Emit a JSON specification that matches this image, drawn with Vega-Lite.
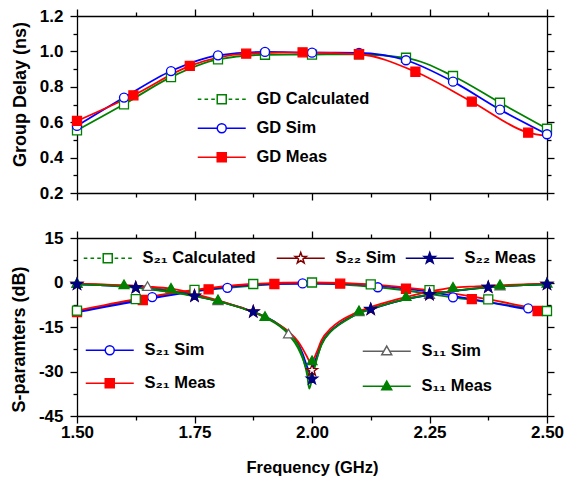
{
  "$schema": "https://vega.github.io/schema/vega-lite/v6.json",
  "background": "white",
  "padding": {"left": 10, "top": 7, "right": 5, "bottom": 5},
  "spacing": 28,
  "datasets": {
    "gd": [
      {"s": "GD Calculated", "f": 1.5, "v": 0.554, "m": 1},
      {"s": "GD Calculated", "f": 1.6, "v": 0.701, "m": 1},
      {"s": "GD Calculated", "f": 1.7, "v": 0.855, "m": 1},
      {"s": "GD Calculated", "f": 1.8, "v": 0.955, "m": 1},
      {"s": "GD Calculated", "f": 1.9, "v": 0.981, "m": 1},
      {"s": "GD Calculated", "f": 2.0, "v": 0.982, "m": 1},
      {"s": "GD Calculated", "f": 2.1, "v": 0.984, "m": 1},
      {"s": "GD Calculated", "f": 2.2, "v": 0.964, "m": 1},
      {"s": "GD Calculated", "f": 2.3, "v": 0.861, "m": 1},
      {"s": "GD Calculated", "f": 2.4, "v": 0.71, "m": 1},
      {"s": "GD Calculated", "f": 2.5, "v": 0.563, "m": 1},
      {"s": "GD Sim", "f": 1.5, "v": 0.579, "m": 1},
      {"s": "GD Sim", "f": 1.6, "v": 0.739, "m": 1},
      {"s": "GD Sim", "f": 1.7, "v": 0.889, "m": 1},
      {"s": "GD Sim", "f": 1.8, "v": 0.978, "m": 1},
      {"s": "GD Sim", "f": 1.9, "v": 0.997, "m": 1},
      {"s": "GD Sim", "f": 2.0, "v": 0.993, "m": 1},
      {"s": "GD Sim", "f": 2.1, "v": 0.992, "m": 1},
      {"s": "GD Sim", "f": 2.2, "v": 0.95, "m": 1},
      {"s": "GD Sim", "f": 2.3, "v": 0.829, "m": 1},
      {"s": "GD Sim", "f": 2.4, "v": 0.671, "m": 1},
      {"s": "GD Sim", "f": 2.5, "v": 0.532, "m": 1},
      {"s": "GD Meas", "f": 1.5, "v": 0.607, "m": 1},
      {"s": "GD Meas", "f": 1.62, "v": 0.752, "m": 1},
      {"s": "GD Meas", "f": 1.74, "v": 0.918, "m": 1},
      {"s": "GD Meas", "f": 1.86, "v": 0.987, "m": 1},
      {"s": "GD Meas", "f": 1.98, "v": 0.995, "m": 1},
      {"s": "GD Meas", "f": 2.1, "v": 0.984, "m": 1},
      {"s": "GD Meas", "f": 2.22, "v": 0.885, "m": 1},
      {"s": "GD Meas", "f": 2.34, "v": 0.716, "m": 1},
      {"s": "GD Meas", "f": 2.46, "v": 0.541, "m": 1},
      {"s": "GD Meas", "f": 2.5, "v": 0.522, "m": 0}
    ],
    "sp": [
      {"s": "S₂₁ Sim", "f": 1.5, "v": -9.8, "m": 0},
      {"s": "S₂₁ Sim", "f": 1.66, "v": -4.9, "m": 1},
      {"s": "S₂₁ Sim", "f": 1.82, "v": -1.8, "m": 1},
      {"s": "S₂₁ Sim", "f": 1.98, "v": -0.3, "m": 1},
      {"s": "S₂₁ Sim", "f": 2.14, "v": -1.6, "m": 1},
      {"s": "S₂₁ Sim", "f": 2.3, "v": -5.0, "m": 1},
      {"s": "S₂₁ Sim", "f": 2.46, "v": -8.7, "m": 1},
      {"s": "S₂₁ Sim", "f": 2.5, "v": -9.9, "m": 0},
      {"s": "S₂₁ Meas", "f": 1.5, "v": -10.0, "m": 1},
      {"s": "S₂₁ Meas", "f": 1.64, "v": -5.9, "m": 1},
      {"s": "S₂₁ Meas", "f": 1.78, "v": -2.3, "m": 1},
      {"s": "S₂₁ Meas", "f": 1.92, "v": -0.5, "m": 1},
      {"s": "S₂₁ Meas", "f": 2.06, "v": -0.4, "m": 1},
      {"s": "S₂₁ Meas", "f": 2.2, "v": -2.1, "m": 1},
      {"s": "S₂₁ Meas", "f": 2.34, "v": -5.6, "m": 1},
      {"s": "S₂₁ Meas", "f": 2.48, "v": -9.6, "m": 1},
      {"s": "S₂₁ Meas", "f": 2.5, "v": -10.1, "m": 0},
      {"s": "S₂₁ Calculated", "f": 1.5, "v": -9.5, "m": 1},
      {"s": "S₂₁ Calculated", "f": 1.625, "v": -5.6, "m": 1},
      {"s": "S₂₁ Calculated", "f": 1.75, "v": -2.5, "m": 1},
      {"s": "S₂₁ Calculated", "f": 1.875, "v": -0.5, "m": 1},
      {"s": "S₂₁ Calculated", "f": 2.0, "v": 0.0, "m": 1},
      {"s": "S₂₁ Calculated", "f": 2.125, "v": -0.6, "m": 1},
      {"s": "S₂₁ Calculated", "f": 2.25, "v": -2.6, "m": 1},
      {"s": "S₂₁ Calculated", "f": 2.375, "v": -5.7, "m": 1},
      {"s": "S₂₁ Calculated", "f": 2.5, "v": -9.6, "m": 1},
      {"s": "S₁₁ Sim", "f": 1.5, "v": -0.5, "m": 1},
      {"s": "S₁₁ Sim", "f": 1.55, "v": -0.7, "m": 0},
      {"s": "S₁₁ Sim", "f": 1.6, "v": -1.0, "m": 0},
      {"s": "S₁₁ Sim", "f": 1.65, "v": -1.5, "m": 1},
      {"s": "S₁₁ Sim", "f": 1.7, "v": -2.8, "m": 0},
      {"s": "S₁₁ Sim", "f": 1.75, "v": -4.3, "m": 0},
      {"s": "S₁₁ Sim", "f": 1.8, "v": -6.3, "m": 1},
      {"s": "S₁₁ Sim", "f": 1.85, "v": -8.6, "m": 0},
      {"s": "S₁₁ Sim", "f": 1.9, "v": -11.8, "m": 0},
      {"s": "S₁₁ Sim", "f": 1.95, "v": -17.5, "m": 1},
      {"s": "S₁₁ Sim", "f": 1.97, "v": -22.0, "m": 0},
      {"s": "S₁₁ Sim", "f": 1.98, "v": -25.5, "m": 0},
      {"s": "S₁₁ Sim", "f": 1.99, "v": -30.0, "m": 0},
      {"s": "S₁₁ Sim", "f": 1.995, "v": -31.5, "m": 0},
      {"s": "S₁₁ Sim", "f": 2.0, "v": -30.5, "m": 0},
      {"s": "S₁₁ Sim", "f": 2.01, "v": -25.5, "m": 0},
      {"s": "S₁₁ Sim", "f": 2.02, "v": -21.0, "m": 0},
      {"s": "S₁₁ Sim", "f": 2.04, "v": -16.5, "m": 0},
      {"s": "S₁₁ Sim", "f": 2.06, "v": -13.8, "m": 0},
      {"s": "S₁₁ Sim", "f": 2.08, "v": -11.8, "m": 0},
      {"s": "S₁₁ Sim", "f": 2.1, "v": -10.0, "m": 1},
      {"s": "S₁₁ Sim", "f": 2.15, "v": -7.6, "m": 0},
      {"s": "S₁₁ Sim", "f": 2.2, "v": -5.7, "m": 0},
      {"s": "S₁₁ Sim", "f": 2.25, "v": -4.2, "m": 1},
      {"s": "S₁₁ Sim", "f": 2.3, "v": -2.9, "m": 0},
      {"s": "S₁₁ Sim", "f": 2.35, "v": -2.0, "m": 0},
      {"s": "S₁₁ Sim", "f": 2.4, "v": -1.3, "m": 1},
      {"s": "S₁₁ Sim", "f": 2.45, "v": -0.8, "m": 0},
      {"s": "S₁₁ Sim", "f": 2.5, "v": -0.5, "m": 0},
      {"s": "S₂₂ Sim", "f": 1.5, "v": -0.6, "m": 1},
      {"s": "S₂₂ Sim", "f": 1.55, "v": -0.9, "m": 0},
      {"s": "S₂₂ Sim", "f": 1.6, "v": -1.35, "m": 0},
      {"s": "S₂₂ Sim", "f": 1.625, "v": -1.7, "m": 1},
      {"s": "S₂₂ Sim", "f": 1.65, "v": -2.1, "m": 0},
      {"s": "S₂₂ Sim", "f": 1.7, "v": -3.1, "m": 0},
      {"s": "S₂₂ Sim", "f": 1.75, "v": -4.5, "m": 1},
      {"s": "S₂₂ Sim", "f": 1.8, "v": -6.2, "m": 0},
      {"s": "S₂₂ Sim", "f": 1.85, "v": -8.5, "m": 0},
      {"s": "S₂₂ Sim", "f": 1.875, "v": -9.8, "m": 1},
      {"s": "S₂₂ Sim", "f": 1.9, "v": -11.5, "m": 0},
      {"s": "S₂₂ Sim", "f": 1.925, "v": -13.7, "m": 0},
      {"s": "S₂₂ Sim", "f": 1.95, "v": -16.8, "m": 0},
      {"s": "S₂₂ Sim", "f": 1.97, "v": -20.5, "m": 0},
      {"s": "S₂₂ Sim", "f": 1.98, "v": -24.0, "m": 0},
      {"s": "S₂₂ Sim", "f": 1.99, "v": -28.5, "m": 0},
      {"s": "S₂₂ Sim", "f": 1.995, "v": -30.2, "m": 0},
      {"s": "S₂₂ Sim", "f": 2.0, "v": -29.6, "m": 1},
      {"s": "S₂₂ Sim", "f": 2.01, "v": -25.0, "m": 0},
      {"s": "S₂₂ Sim", "f": 2.02, "v": -20.5, "m": 0},
      {"s": "S₂₂ Sim", "f": 2.04, "v": -16.3, "m": 0},
      {"s": "S₂₂ Sim", "f": 2.06, "v": -13.8, "m": 0},
      {"s": "S₂₂ Sim", "f": 2.08, "v": -11.9, "m": 0},
      {"s": "S₂₂ Sim", "f": 2.1, "v": -10.3, "m": 0},
      {"s": "S₂₂ Sim", "f": 2.125, "v": -9.1, "m": 1},
      {"s": "S₂₂ Sim", "f": 2.15, "v": -7.8, "m": 0},
      {"s": "S₂₂ Sim", "f": 2.2, "v": -5.6, "m": 0},
      {"s": "S₂₂ Sim", "f": 2.25, "v": -4.1, "m": 1},
      {"s": "S₂₂ Sim", "f": 2.3, "v": -2.9, "m": 0},
      {"s": "S₂₂ Sim", "f": 2.35, "v": -2.0, "m": 0},
      {"s": "S₂₂ Sim", "f": 2.375, "v": -1.6, "m": 1},
      {"s": "S₂₂ Sim", "f": 2.4, "v": -1.3, "m": 0},
      {"s": "S₂₂ Sim", "f": 2.45, "v": -0.9, "m": 0},
      {"s": "S₂₂ Sim", "f": 2.5, "v": -0.6, "m": 1},
      {"s": "S₁₁ Meas", "f": 1.5, "v": -0.4, "m": 1},
      {"s": "S₁₁ Meas", "f": 1.55, "v": -0.6, "m": 0},
      {"s": "S₁₁ Meas", "f": 1.6, "v": -0.95, "m": 1},
      {"s": "S₁₁ Meas", "f": 1.65, "v": -1.4, "m": 0},
      {"s": "S₁₁ Meas", "f": 1.7, "v": -2.1, "m": 1},
      {"s": "S₁₁ Meas", "f": 1.75, "v": -3.8, "m": 0},
      {"s": "S₁₁ Meas", "f": 1.8, "v": -6.0, "m": 1},
      {"s": "S₁₁ Meas", "f": 1.85, "v": -8.5, "m": 0},
      {"s": "S₁₁ Meas", "f": 1.9, "v": -11.6, "m": 1},
      {"s": "S₁₁ Meas", "f": 1.95, "v": -16.5, "m": 0},
      {"s": "S₁₁ Meas", "f": 1.97, "v": -19.8, "m": 0},
      {"s": "S₁₁ Meas", "f": 1.98, "v": -22.3, "m": 0},
      {"s": "S₁₁ Meas", "f": 1.99, "v": -25.2, "m": 0},
      {"s": "S₁₁ Meas", "f": 1.995, "v": -26.6, "m": 0},
      {"s": "S₁₁ Meas", "f": 2.0, "v": -26.5, "m": 1},
      {"s": "S₁₁ Meas", "f": 2.01, "v": -23.5, "m": 0},
      {"s": "S₁₁ Meas", "f": 2.02, "v": -19.5, "m": 0},
      {"s": "S₁₁ Meas", "f": 2.04, "v": -15.5, "m": 0},
      {"s": "S₁₁ Meas", "f": 2.06, "v": -13.0, "m": 0},
      {"s": "S₁₁ Meas", "f": 2.08, "v": -11.2, "m": 0},
      {"s": "S₁₁ Meas", "f": 2.1, "v": -9.7, "m": 1},
      {"s": "S₁₁ Meas", "f": 2.15, "v": -7.0, "m": 0},
      {"s": "S₁₁ Meas", "f": 2.2, "v": -4.9, "m": 1},
      {"s": "S₁₁ Meas", "f": 2.25, "v": -3.1, "m": 0},
      {"s": "S₁₁ Meas", "f": 2.3, "v": -1.75, "m": 1},
      {"s": "S₁₁ Meas", "f": 2.35, "v": -1.3, "m": 0},
      {"s": "S₁₁ Meas", "f": 2.4, "v": -0.95, "m": 1},
      {"s": "S₁₁ Meas", "f": 2.45, "v": -0.6, "m": 0},
      {"s": "S₁₁ Meas", "f": 2.5, "v": -0.4, "m": 1},
      {"s": "S₂₂ Meas", "f": 1.5, "v": -0.6, "m": 1},
      {"s": "S₂₂ Meas", "f": 1.55, "v": -0.9, "m": 0},
      {"s": "S₂₂ Meas", "f": 1.6, "v": -1.4, "m": 0},
      {"s": "S₂₂ Meas", "f": 1.625, "v": -1.75, "m": 1},
      {"s": "S₂₂ Meas", "f": 1.65, "v": -2.2, "m": 0},
      {"s": "S₂₂ Meas", "f": 1.7, "v": -3.2, "m": 0},
      {"s": "S₂₂ Meas", "f": 1.75, "v": -4.6, "m": 1},
      {"s": "S₂₂ Meas", "f": 1.8, "v": -6.3, "m": 0},
      {"s": "S₂₂ Meas", "f": 1.85, "v": -8.6, "m": 0},
      {"s": "S₂₂ Meas", "f": 1.875, "v": -9.9, "m": 1},
      {"s": "S₂₂ Meas", "f": 1.9, "v": -11.6, "m": 0},
      {"s": "S₂₂ Meas", "f": 1.925, "v": -13.8, "m": 0},
      {"s": "S₂₂ Meas", "f": 1.95, "v": -17.0, "m": 0},
      {"s": "S₂₂ Meas", "f": 1.97, "v": -21.0, "m": 0},
      {"s": "S₂₂ Meas", "f": 1.98, "v": -25.0, "m": 0},
      {"s": "S₂₂ Meas", "f": 1.99, "v": -31.5, "m": 0},
      {"s": "S₂₂ Meas", "f": 1.994, "v": -35.8, "m": 0},
      {"s": "S₂₂ Meas", "f": 2.0, "v": -32.5, "m": 1},
      {"s": "S₂₂ Meas", "f": 2.01, "v": -26.0, "m": 0},
      {"s": "S₂₂ Meas", "f": 2.02, "v": -21.0, "m": 0},
      {"s": "S₂₂ Meas", "f": 2.04, "v": -16.5, "m": 0},
      {"s": "S₂₂ Meas", "f": 2.06, "v": -14.0, "m": 0},
      {"s": "S₂₂ Meas", "f": 2.08, "v": -12.0, "m": 0},
      {"s": "S₂₂ Meas", "f": 2.1, "v": -10.3, "m": 0},
      {"s": "S₂₂ Meas", "f": 2.125, "v": -9.0, "m": 1},
      {"s": "S₂₂ Meas", "f": 2.15, "v": -7.7, "m": 0},
      {"s": "S₂₂ Meas", "f": 2.2, "v": -5.6, "m": 0},
      {"s": "S₂₂ Meas", "f": 2.25, "v": -4.0, "m": 1},
      {"s": "S₂₂ Meas", "f": 2.3, "v": -2.8, "m": 0},
      {"s": "S₂₂ Meas", "f": 2.35, "v": -2.0, "m": 0},
      {"s": "S₂₂ Meas", "f": 2.375, "v": -1.6, "m": 1},
      {"s": "S₂₂ Meas", "f": 2.4, "v": -1.3, "m": 0},
      {"s": "S₂₂ Meas", "f": 2.45, "v": -0.9, "m": 0},
      {"s": "S₂₂ Meas", "f": 2.5, "v": -0.6, "m": 1}
    ]
  },
  "vconcat": [
    {
      "width": 470,
      "height": 177,
      "layer": [
        {
          "data": {"name": "gd"},
          "mark": {"type": "line", "interpolate": "monotone", "strokeWidth": 1.8},
          "encoding": {
            "x": {"field": "f", "type": "quantitative", "scale": {"domain": [1.5, 2.5], "nice": false, "zero": false},
              "axis": {"orient": "bottom", "title": null, "labels": false, "values": [1.5, 1.625, 1.75, 1.875, 2, 2.125, 2.25, 2.375, 2.5],
                "tickSize": {"condition": {"test": "abs(datum.value*4 - round(datum.value*4)) < 0.001", "value": 7}, "value": 4}}},
            "y": {"field": "v", "type": "quantitative", "scale": {"domain": [0.2, 1.2], "nice": false, "zero": false},
              "axis": {"orient": "left", "title": "Group Delay (ns)", "titleY": 78, "values": [0.2, 0.3, 0.4, 0.5, 0.6, 0.7, 0.8, 0.9, 1.0, 1.1, 1.2],
                "labelExpr": "abs(datum.value*5 - round(datum.value*5)) < 0.001 ? format(datum.value, '.1f') : ''",
                "tickSize": {"condition": {"test": "abs(datum.value*5 - round(datum.value*5)) < 0.001", "value": 7}, "value": 4}}},
            "color": {"field": "s", "type": "nominal", "sort": null,
              "scale": {"domain": ["GD Calculated", "GD Sim", "GD Meas"], "range": ["#008000", "#0000FF", "#FF0000"]}, "legend": null}
          }
        },
        {
          "data": {"name": "gd"},
          "transform": [{"filter": "datum.m == 1"}],
          "mark": {"type": "point", "filled": true, "size": 81, "strokeWidth": 1.3, "opacity": 1},
          "encoding": {
            "x": {"field": "f", "type": "quantitative",
              "axis": {"orient": "top", "title": null, "labels": false, "values": [1.5, 1.625, 1.75, 1.875, 2, 2.125, 2.25, 2.375, 2.5],
                "tickSize": {"condition": {"test": "abs(datum.value*4 - round(datum.value*4)) < 0.001", "value": 7}, "value": 4}}},
            "y": {"field": "v", "type": "quantitative",
              "axis": {"orient": "right", "title": null, "labels": false, "values": [0.2, 0.3, 0.4, 0.5, 0.6, 0.7, 0.8, 0.9, 1.0, 1.1, 1.2],
                "tickSize": {"condition": {"test": "abs(datum.value*5 - round(datum.value*5)) < 0.001", "value": 7}, "value": 4}}},
            "shape": {"field": "s", "type": "nominal", "scale": {"domain": ["GD Calculated", "GD Sim", "GD Meas"], "range": ["square", "circle", "square"]}, "legend": null},
            "fill": {"field": "s", "type": "nominal", "scale": {"domain": ["GD Calculated", "GD Sim", "GD Meas"], "range": ["#FFFFFF", "#FFFFFF", "#FF0000"]}, "legend": null},
            "stroke": {"field": "s", "type": "nominal", "scale": {"domain": ["GD Calculated", "GD Sim", "GD Meas"], "range": ["#008000", "#0000FF", "#FF0000"]}, "legend": null}
          }
        },
        {
          "data": {"name": "gd"},
          "transform": [{"filter": "false"}],
          "mark": {"type": "point", "filled": true, "opacity": 1, "strokeWidth": 1.5},
          "encoding": {
            "shape": {"field": "s", "type": "nominal",
              "scale": {"domain": ["GD Calculated", "GD Sim", "GD Meas"],
                "range": ["M-1,0H-0.2M0.5,0H1.3M2,0H2.8M3.33,-1H5.33V1H3.33ZM5.86,0H6.66M7.36,0H8.16M8.87,0H9.67",
                  "M-1,0H3.33M5.33,0H9.67M3.33,0A1,1,0,1,1,5.33,0A1,1,0,1,1,3.33,0Z",
                  "M-1,0H3.33M5.33,0H9.67M3.33,-1H5.33V1H3.33Z"]},
              "legend": {"orient": "none", "legendX": 117, "legendY": 75, "title": null, "rowPadding": 12}},
            "fill": {"field": "s", "type": "nominal", "scale": {"domain": ["GD Calculated", "GD Sim", "GD Meas"], "range": ["#FFFFFF", "#FFFFFF", "#FF0000"]}},
            "stroke": {"field": "s", "type": "nominal", "scale": {"domain": ["GD Calculated", "GD Sim", "GD Meas"], "range": ["#008000", "#0000FF", "#FF0000"]}}
          }
        }
      ],
      "resolve": {"axis": {"x": "independent", "y": "independent"}, "scale": {"shape": "independent", "fill": "independent", "stroke": "independent"}}
    },
    {
      "width": 470,
      "height": 178,
      "layer": [
        {
          "data": {"name": "sp"},
          "mark": {"type": "line", "interpolate": "monotone", "strokeWidth": 1.8},
          "encoding": {
            "x": {"field": "f", "type": "quantitative", "scale": {"domain": [1.5, 2.5], "nice": false, "zero": false},
              "axis": {"orient": "bottom", "title": "Frequency (GHz)", "titleFontSize": 16.5, "titlePadding": 19, "values": [1.5, 1.625, 1.75, 1.875, 2, 2.125, 2.25, 2.375, 2.5],
                "labelExpr": "abs(datum.value*4 - round(datum.value*4)) < 0.001 ? format(datum.value, '.2f') : ''",
                "tickSize": {"condition": {"test": "abs(datum.value*4 - round(datum.value*4)) < 0.001", "value": 7}, "value": 4}}},
            "y": {"field": "v", "type": "quantitative", "scale": {"domain": [-45, 15], "nice": false, "zero": false},
              "axis": {"orient": "left", "title": "S-paramters (dB)", "titleY": 101, "values": [-45, -37.5, -30, -22.5, -15, -7.5, 0, 7.5, 15],
                "labelExpr": "datum.value % 15 == 0 ? '' + datum.value : ''",
                "tickSize": {"condition": {"test": "datum.value % 15 == 0", "value": 7}, "value": 4}}},
            "color": {"field": "s", "type": "nominal", "sort": null,
              "scale": {"domain": ["S₂₁ Sim", "S₂₁ Meas", "S₂₁ Calculated", "S₁₁ Sim", "S₂₂ Sim", "S₁₁ Meas", "S₂₂ Meas"],
                "range": ["#0000FF", "#FF0000", "#008000", "#808080", "#800000", "#008000", "#000080"]}, "legend": null}
          }
        },
        {
          "data": {"name": "sp"},
          "transform": [{"filter": "datum.m == 1"}],
          "mark": {"type": "point", "filled": true, "size": 81, "strokeWidth": 1.3, "opacity": 1},
          "encoding": {
            "x": {"field": "f", "type": "quantitative",
              "axis": {"orient": "top", "title": null, "labels": false, "values": [1.5, 1.625, 1.75, 1.875, 2, 2.125, 2.25, 2.375, 2.5],
                "tickSize": {"condition": {"test": "abs(datum.value*4 - round(datum.value*4)) < 0.001", "value": 7}, "value": 4}}},
            "y": {"field": "v", "type": "quantitative",
              "axis": {"orient": "right", "title": null, "labels": false, "values": [-45, -37.5, -30, -22.5, -15, -7.5, 0, 7.5, 15],
                "tickSize": {"condition": {"test": "datum.value % 15 == 0", "value": 7}, "value": 4}}},
            "shape": {"field": "s", "type": "nominal",
              "scale": {"domain": ["S₂₁ Sim", "S₂₁ Meas", "S₂₁ Calculated", "S₁₁ Sim", "S₂₂ Sim", "S₁₁ Meas", "S₂₂ Meas"],
                "range": ["circle", "square", "square", "M0,-1.15L1.1,0.75H-1.1Z",
                  "M0,-1.3L0.31,-0.42L1.24,-0.4L0.49,0.16L0.76,1.05L0,0.52L-0.76,1.05L-0.49,0.16L-1.24,-0.4L-0.31,-0.42Z",
                  "M0,-1.15L1.1,0.75H-1.1Z",
                  "M0,-1.3L0.31,-0.42L1.24,-0.4L0.49,0.16L0.76,1.05L0,0.52L-0.76,1.05L-0.49,0.16L-1.24,-0.4L-0.31,-0.42Z"]}, "legend": null},
            "fill": {"field": "s", "type": "nominal",
              "scale": {"domain": ["S₂₁ Sim", "S₂₁ Meas", "S₂₁ Calculated", "S₁₁ Sim", "S₂₂ Sim", "S₁₁ Meas", "S₂₂ Meas"],
                "range": ["#FFFFFF", "#FF0000", "#FFFFFF", "#FFFFFF", "#FFFFFF", "#008000", "#000080"]}, "legend": null},
            "stroke": {"field": "s", "type": "nominal",
              "scale": {"domain": ["S₂₁ Sim", "S₂₁ Meas", "S₂₁ Calculated", "S₁₁ Sim", "S₂₂ Sim", "S₁₁ Meas", "S₂₂ Meas"],
                "range": ["#0000FF", "#FF0000", "#008000", "#606060", "#800000", "#008000", "#000080"]}, "legend": null}
          }
        },
        {
          "data": {"name": "sp"},
          "transform": [{"filter": "false"}],
          "mark": {"type": "point", "filled": true, "opacity": 1, "strokeWidth": 1.5},
          "encoding": {
            "shape": {"field": "s", "type": "nominal",
              "scale": {"domain": ["S₂₁ Calculated"], "range": ["M-1,0H-0.2M0.5,0H1.3M2,0H2.8M3.33,-1H5.33V1H3.33ZM5.86,0H6.66M7.36,0H8.16M8.87,0H9.67"]},
              "legend": {"orient": "none", "legendX": 3, "legendY": 12, "title": null}},
            "fill": {"field": "s", "type": "nominal", "scale": {"domain": ["S₂₁ Calculated"], "range": ["#FFFFFF"]}},
            "stroke": {"field": "s", "type": "nominal", "scale": {"domain": ["S₂₁ Calculated"], "range": ["#008000"]}}
          }
        },
        {
          "data": {"name": "sp"},
          "transform": [{"filter": "false"}],
          "mark": {"type": "point", "filled": true, "opacity": 1, "strokeWidth": 1.5},
          "encoding": {
            "shape": {"field": "s", "type": "nominal",
              "scale": {"domain": ["S₂₂ Sim"], "range": ["M-1,0H3.63M5.03,0H9.67M4.33,-1.3L4.64,-0.42L5.57,-0.4L4.82,0.16L5.09,1.05L4.33,0.52L3.57,1.05L3.84,0.16L3.09,-0.4L4.02,-0.42Z"]},
              "legend": {"orient": "none", "legendX": 196, "legendY": 12, "title": null}},
            "fill": {"field": "s", "type": "nominal", "scale": {"domain": ["S₂₂ Sim"], "range": ["#FFFFFF"]}},
            "stroke": {"field": "s", "type": "nominal", "scale": {"domain": ["S₂₂ Sim"], "range": ["#800000"]}}
          }
        },
        {
          "data": {"name": "sp"},
          "transform": [{"filter": "false"}],
          "mark": {"type": "point", "filled": true, "opacity": 1, "strokeWidth": 1.5},
          "encoding": {
            "shape": {"field": "s", "type": "nominal",
              "scale": {"domain": ["S₂₂ Meas"], "range": ["M-1,0H3.63M5.03,0H9.67M4.33,-1.3L4.64,-0.42L5.57,-0.4L4.82,0.16L5.09,1.05L4.33,0.52L3.57,1.05L3.84,0.16L3.09,-0.4L4.02,-0.42Z"]},
              "legend": {"orient": "none", "legendX": 325, "legendY": 12, "title": null}},
            "fill": {"field": "s", "type": "nominal", "scale": {"domain": ["S₂₂ Meas"], "range": ["#000080"]}},
            "stroke": {"field": "s", "type": "nominal", "scale": {"domain": ["S₂₂ Meas"], "range": ["#000080"]}}
          }
        },
        {
          "data": {"name": "sp"},
          "transform": [{"filter": "false"}],
          "mark": {"type": "point", "filled": true, "opacity": 1, "strokeWidth": 1.5},
          "encoding": {
            "shape": {"field": "s", "type": "nominal",
              "scale": {"domain": ["S₂₁ Sim", "S₂₁ Meas"], "range": ["M-1,0H3.33M5.33,0H9.67M3.33,0A1,1,0,1,1,5.33,0A1,1,0,1,1,3.33,0Z", "M-1,0H3.33M5.33,0H9.67M3.33,-1H5.33V1H3.33Z"]},
              "legend": {"orient": "none", "legendX": 5, "legendY": 104, "title": null, "rowPadding": 16}},
            "fill": {"field": "s", "type": "nominal", "scale": {"domain": ["S₂₁ Sim", "S₂₁ Meas"], "range": ["#FFFFFF", "#FF0000"]}},
            "stroke": {"field": "s", "type": "nominal", "scale": {"domain": ["S₂₁ Sim", "S₂₁ Meas"], "range": ["#0000FF", "#FF0000"]}}
          }
        },
        {
          "data": {"name": "sp"},
          "transform": [{"filter": "false"}],
          "mark": {"type": "point", "filled": true, "opacity": 1, "strokeWidth": 1.5},
          "encoding": {
            "shape": {"field": "s", "type": "nominal",
              "scale": {"domain": ["S₁₁ Sim", "S₁₁ Meas"], "range": ["M-1,0H3.69M4.97,0H9.67M4.33,-1.15L5.43,0.75H3.23Z", "M-1,0H3.69M4.97,0H9.67M4.33,-1.15L5.43,0.75H3.23Z"]},
              "legend": {"orient": "none", "legendX": 282, "legendY": 105, "title": null, "rowPadding": 18}},
            "fill": {"field": "s", "type": "nominal", "scale": {"domain": ["S₁₁ Sim", "S₁₁ Meas"], "range": ["#FFFFFF", "#008000"]}},
            "stroke": {"field": "s", "type": "nominal", "scale": {"domain": ["S₁₁ Sim", "S₁₁ Meas"], "range": ["#606060", "#008000"]}}
          }
        }
      ],
      "resolve": {"axis": {"x": "independent", "y": "independent"}, "scale": {"shape": "independent", "fill": "independent", "stroke": "independent"}}
    }
  ],
  "config": {
    "view": {"stroke": null},
    "font": "Liberation Sans",
    "axis": {
      "grid": false,
      "domainColor": "#000000",
      "domainWidth": 1.3,
      "tickColor": "#000000",
      "tickWidth": 1.3,
      "labelFont": "Liberation Sans",
      "labelFontSize": 17,
      "labelFontWeight": "bold",
      "labelColor": "#000000",
      "labelOverlap": false,
      "labelFlush": false,
      "titleFont": "Liberation Sans",
      "titleFontSize": 18,
      "titleFontWeight": "bold",
      "titleColor": "#000000"
    },
    "axisY": {"labelPadding": 7, "titlePadding": 10},
    "axisX": {"labelPadding": 1},
    "legend": {
      "labelFont": "Liberation Sans",
      "labelFontSize": 16.5,
      "labelFontWeight": "bold",
      "labelColor": "#000000",
      "labelOffset": 46,
      "symbolSize": 81,
      "symbolStrokeWidth": 1.5,
      "padding": 0,
      "labelLimit": 300
    }
  }
}
